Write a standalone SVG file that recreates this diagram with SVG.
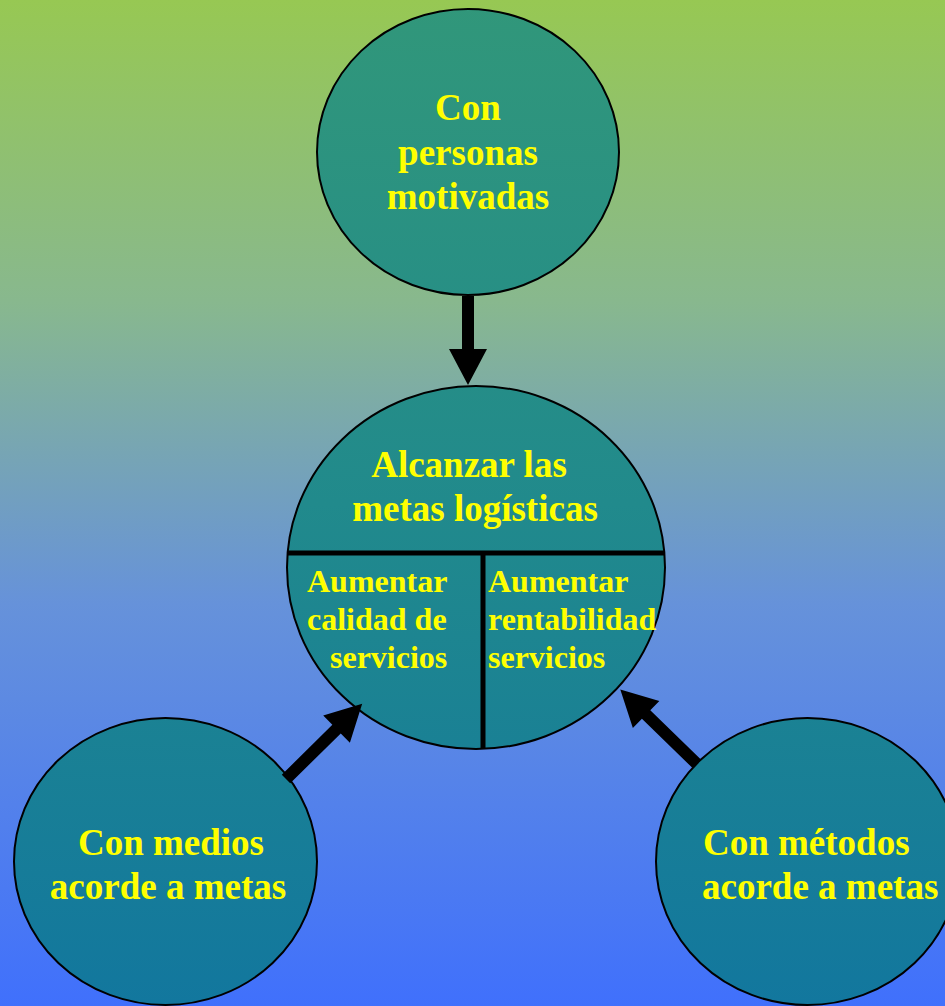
<svg xmlns="http://www.w3.org/2000/svg" width="945" height="1006" viewBox="0 0 945 1006">
<defs>
<linearGradient id="bg" x1="0" y1="0" x2="0" y2="1">
<stop offset="0" stop-color="#97C853"/>
<stop offset="0.3" stop-color="#88B88E"/>
<stop offset="0.6" stop-color="#6692DA"/>
<stop offset="1" stop-color="#4070FC"/>
</linearGradient>
<linearGradient id="cf" gradientUnits="userSpaceOnUse" x1="0" y1="0" x2="0" y2="1006">
<stop offset="0" stop-color="#31977A"/>
<stop offset="0.5" stop-color="#218A8C"/>
<stop offset="1" stop-color="#12779E"/>
</linearGradient>
</defs>
<style>
.node{fill:url(#cf);stroke:#000;stroke-width:2}
.t{font-family:"Liberation Serif","Times New Roman",serif;font-weight:bold;fill:#FFFF00}
.big{font-size:37px}
.sm{font-size:32px}
.div{stroke:#000;stroke-width:5}
.arrow{fill:#000}
</style>
<rect width="945" height="1006" fill="url(#bg)"/>
<g id="node-personas">
<ellipse class="node" cx="468" cy="152" rx="151" ry="143"/>
<text class="t big" text-anchor="middle" x="468" y="120">Con</text>
<text class="t big" text-anchor="middle" x="468" y="165">personas</text>
<text class="t big" text-anchor="middle" x="468" y="209">motivadas</text>
</g>
<g id="node-metas">
<ellipse class="node" cx="476" cy="567.5" rx="189" ry="181.5"/>
<line class="div" x1="287.5" y1="553" x2="664.5" y2="553"/>
<line class="div" x1="483" y1="553" x2="483" y2="749"/>
<text class="t big" text-anchor="middle" x="469" y="477">Alcanzar las</text>
<text class="t big" text-anchor="middle" x="475" y="521">metas logísticas</text>
<text class="t sm" x="307" y="592">Aumentar</text>
<text class="t sm" x="307" y="630">calidad de</text>
<text class="t sm" x="330" y="668">servicios</text>
<text class="t sm" x="488" y="592">Aumentar</text>
<text class="t sm" x="488" y="630">rentabilidad</text>
<text class="t sm" x="488" y="668">servicios</text>
</g>
<g id="node-medios">
<ellipse class="node" cx="165.5" cy="861.5" rx="151.5" ry="143.5"/>
<text class="t big" text-anchor="middle" x="171" y="855">Con medios</text>
<text class="t big" text-anchor="middle" x="168" y="899">acorde a metas</text>
</g>
<g id="node-metodos">
<ellipse class="node" cx="807.5" cy="861.5" rx="151.5" ry="143.5"/>
<text class="t big" x="703" y="855">Con métodos</text>
<text class="t big" x="702" y="899">acorde a metas</text>
</g>
<g id="connectors">
<path class="arrow" transform="translate(468,296) rotate(90)" d="M0,-6 H53 V-19 L89,0 L53,19 V6 H0 Z"/>
<path class="arrow" transform="translate(286,779) rotate(-44.6)" d="M0,-6 H71 V-19 L107,0 L71,19 V6 H0 Z"/>
<path class="arrow" transform="translate(697,764) rotate(-135.8)" d="M0,-6 H71 V-19 L107,0 L71,19 V6 H0 Z"/>
</g>
</svg>
